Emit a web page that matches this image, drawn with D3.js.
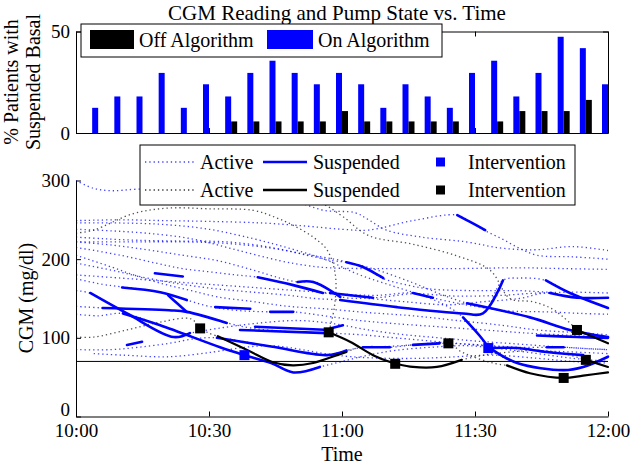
<!DOCTYPE html>
<html><head><meta charset="utf-8">
<script src="https://cdn.jsdelivr.net/npm/d3@7"></script>
<style>
body{margin:0;background:#fff}
svg{display:block}
text{font-family:"Liberation Serif","Times New Roman",serif;fill:#000}
</style>
</head><body>
<svg id="chart" width="632" height="466"></svg>
<script>
// ---------- DATA ----------
const barMinutes = [5,10,15,20,25,30,35,40,45,50,55,60,65,70,75,80,85,90,95,100,105,110,115,120];
const barOnAlgorithm  = [12.4,18,18,29.6,12.4,24,18,29.6,35.6,29.6,24,29.6,24,12.4,24,18,12.4,29.6,35.6,18,29.6,47.4,41.8,24];
const barOffAlgorithm = [0,0,0,0,0,0,5.7,5.7,5.7,5.7,5.7,10.8,5.7,5.7,5.7,5.7,5.7,0,5.7,10.8,10.8,10.8,16.3,0];
const xTickMinutes = [0,30,60,90,120];
const xTickLabels = ["10:00","10:30","11:00","11:30","12:00"];
const barYTicks = [0,50];
const cgmYTicks = [0,100,200,300];
const hypoThreshold = 70;

// CGM traces: [minutes after 10:00, mg/dl]
const activeOn = [
 [[0,300],[4,290],[8,287],[14,289],[24,288],[36,284],[48,276],[56,262],[63,259],[66,250],[70,237],[78,228],[88,222],[96,214],[104,212],[112,216],[120,211]],
 [[0,249],[10,250],[20,249],[30,248],[42,246],[52,242],[60,238],[66,237],[76,249],[86,256],[89,247],[92,237],[96,226],[100,214],[104,205],[112,203],[120,200]],
 [[0,238],[8,236],[16,233],[26,226],[36,212],[46,198],[52,192],[57,189],[70,188],[85,188],[100,189],[110,188],[120,187]],
 [[0,228],[6,226],[14,224],[24,223],[34,222],[44,215],[52,205],[58,198],[61,196],[65,190],[69,176],[74,168],[80,162],[90,160],[100,160],[107,158],[113,158],[120,157]],
 [[0,222],[8,218],[16,212],[24,205],[32,198],[40,186],[46,176],[50,171],[54,171],[60,152],[66,150],[74,146],[84,142],[92,146],[100,150],[106,157],[112,152],[120,150]],
 [[0,215],[10,205],[18,195],[24,188],[30,184],[36,180],[41,177],[49,167],[56,157],[62,155],[68,154],[76,157],[81,150],[90,140],[98,134],[106,133],[114,131],[120,130]],
 [[0,205],[8,190],[14,178],[20,168],[26,160],[32,152],[40,146],[48,140],[56,137],[66,132],[76,128],[86,122],[96,116],[104,110],[112,107],[120,104]],
 [[0,175],[6,168],[10,165],[19,158],[25,148],[30,140],[36,135],[44,133],[49,133],[56,128],[64,122],[72,118],[82,114],[92,110],[102,106],[112,103],[120,100]],
 [[0,160],[3,157],[11.5,131],[22,101],[25.7,106],[32,112],[40,118],[50,122],[58,118],[66,110],[74,104],[82,100],[90,96],[100,92],[110,88],[120,85]],
 [[0,140],[6,138],[21,135],[25,133],[34,119],[40,112],[48,108],[57,106],[64,104],[72,100],[80,96],[88,92],[96,88],[104,84],[112,82],[120,80]],
 [[0,130],[5,128],[10.6,131],[19,116],[32.5,88],[38,78],[44,68],[49,56],[55,63],[60,70],[66,78],[72,84],[80,88],[88,90],[96,86],[104,80],[112,74],[120,70]],
 [[0,85],[8,85],[14,88],[21,93],[27,99],[32,100],[44,89],[56.6,78],[61,84],[65,88],[71,88],[76,91],[82,93],[88,92],[94,90],[100,88],[106,88],[110,88],[116,86],[120,85]],
 [[4,80],[10.6,78],[21,76],[31,82],[38,88],[44,90],[50,86],[56,80],[62,76],[70,74],[78,74],[86,76],[94,78],[104,74],[112,70],[120,68]],
 [[0,246],[10,246],[20,244],[30,238],[40,226],[48,214],[56,200],[64,180],[72,165],[80,150],[85,136],[87.3,126],[91,103],[93,87],[99.5,68],[110,59],[114.4,63],[120,76]],
 [[0,195],[8,186],[16,176],[24,168],[32,162],[40,158],[48,154],[54,150],[59.6,148],[72.4,139],[87.3,131],[91.8,131],[96.3,173],[100,176],[106,173],[111.4,157],[120,138]],
 [[0,180],[10,176],[20,172],[30,168],[40,164],[50,160],[57.3,157],[67,151],[76,156],[86,153],[96,154],[106.9,157],[113,151],[120,151]],
 [[0,222],[12,222],[24,222],[34,220],[44,214],[52,206],[60,198],[68,186],[76,170],[82,156],[88.2,144],[102.4,126],[111.4,110],[120,101]]
];
const suspendedOn = [
 [[3.2,157],[11.5,131],[22,101],[25.7,106]],
 [[6,138],[21,135],[25,133],[34,119]],
 [[10.4,164],[19,158],[25,148]],
 [[20.8,154],[23,143],[25,133]],
 [[10.6,131],[19,116],[32.5,88],[38,78],[44,68],[49,56],[55,63]],
 [[11.5,91],[14.9,95]],
 [[31.4,139],[39.3,137]],
 [[43.8,133],[49,133]],
 [[37,110],[56.6,106]],
 [[40.4,114],[57.3,110]],
 [[31.8,100],[44,89],[56.6,78],[61,84]],
 [[17.8,182],[24.1,178]],
 [[41,177],[49,167],[55.7,157]],
 [[50,171],[53.5,171],[59.6,152]],
 [[86,256],[89,247],[92.3,237]],
 [[61,196],[64.7,190],[69.3,176]],
 [[57.3,157],[67,151]],
 [[76,157],[80.5,151]],
 [[106,173],[111.4,157],[120,138]],
 [[106.9,157],[113,151],[120,151]],
 [[59.6,148],[72.4,139],[87.3,131],[91.8,131],[96.3,173]],
 [[88.2,144],[102.4,126],[111.4,110],[120,101]],
 [[87.3,126],[91,103],[93.2,87]],
 [[93.4,87],[99.5,87],[106.2,82],[114.4,78]],
 [[93.4,87],[99.5,68],[110,59],[114.4,63],[120,76]],
 [[104,103],[113,101],[120,100]],
 [[106.2,88],[110,88]],
 [[64.7,88],[70.8,88]],
 [[76,91],[82,93]],
 [[57.3,112],[60.2,116]]
];
const activeOff = [
 [[0,233],[4,237],[13,258],[21,265],[30,264],[40,262],[45,253],[49,243],[53.5,228],[56.6,212],[58.5,180],[58.3,140],[57,107]],
 [[87,72],[92,78],[98,82],[104,84],[110,80],[115,72]],
 [[0,101],[4,101],[11.5,110],[19,120],[26,124],[28,112],[30,106],[32,102]],
 [[61,82],[64,88],[70,89],[76,91],[84,93],[87,82],[90,75],[94,68],[97.2,65]],
 [[15,282],[30,290],[45,285],[55,272],[60,255],[66,230],[76,219],[86,204],[93.4,186],[97.9,150],[103,146],[107,138],[110,126],[113,110]]
];
const suspendedOff = [
 [[32,102],[38.6,84.5],[44.4,69],[48.9,65],[53.5,68],[58.9,78],[61,82]],
 [[57,107],[61.8,95],[67,78],[71.5,68],[72.2,67],[76,63],[81.4,63],[87,72]],
 [[97.2,65],[102.4,55],[110,49],[114.4,52],[120,56]],
 [[113,110],[120,93]],
 [[115,72],[120,63]]
];
const interventionOn = [[38,78],[93,87]];
const interventionOff = [[28,112],[57,107],[72,67],[84,93],[110,49],[113,110],[115,72]];

// ---------- LAYOUT ----------
const svg = d3.select("#chart");
const FONT = '"Liberation Serif","Times New Roman",serif';
const BLUE = "#0000ff";
const x = d3.scaleLinear().domain([0,120]).range([76,608]);
const yBar = d3.scaleLinear().domain([0,50]).range([133,31.5]);
const yCgm = d3.scaleLinear().domain([0,300]).range([416.5,180.5]);

svg.append("defs").html(
 '<clipPath id="clipTop"><rect x="76" y="31.5" width="532" height="101.5"/></clipPath>'+
 '<clipPath id="clipBot"><rect x="76" y="170" width="540" height="246.5"/></clipPath>');

function styleAxis(g, size){
  g.attr("font-family", FONT).attr("font-size", size);
  g.selectAll("path.domain").attr("stroke","#000").attr("stroke-width",1);
  g.selectAll(".tick line").attr("stroke","#000");
  g.selectAll(".tick text").attr("fill","#000");
}

// title
svg.append("text").attr("x",337).attr("y",20).attr("text-anchor","middle")
  .attr("font-size",21).text("CGM Reading and Pump State vs. Time");

// ---------- TOP BAR CHART ----------
const topG = svg.append("g");
const barsG = topG.append("g").attr("clip-path","url(#clipTop)");
const bw = 6;
barsG.selectAll("rect.on").data(barMinutes).join("rect")
  .attr("x", d => x(d) - bw).attr("width", bw)
  .attr("y", (d,i) => yBar(barOnAlgorithm[i]))
  .attr("height", (d,i) => yBar(0) - yBar(barOnAlgorithm[i]))
  .attr("fill", BLUE);
barsG.selectAll("rect.off").data(barMinutes).join("rect")
  .attr("x", d => x(d)).attr("width", bw)
  .attr("y", (d,i) => yBar(barOffAlgorithm[i]))
  .attr("height", (d,i) => yBar(0) - yBar(barOffAlgorithm[i]))
  .attr("fill", "#000");

topG.append("g").attr("transform","translate(76,0)")
  .call(d3.axisLeft(yBar).tickValues(barYTicks).tickSize(-5).tickSizeOuter(0).tickPadding(6))
  .call(g=>styleAxis(g,19));
topG.append("g").attr("transform","translate(608,0)")
  .call(d3.axisRight(yBar).tickValues(barYTicks).tickSize(-5).tickSizeOuter(0).tickFormat(""))
  .call(g=>styleAxis(g,19));
topG.append("g").attr("transform","translate(0,133)")
  .call(d3.axisBottom(x).tickValues(xTickMinutes).tickSize(-5).tickSizeOuter(0).tickFormat(""))
  .call(g=>styleAxis(g,19));
topG.append("g").attr("transform","translate(0,31.5)")
  .call(d3.axisTop(x).tickValues(xTickMinutes).tickSize(-5).tickSizeOuter(0).tickFormat(""))
  .call(g=>styleAxis(g,19));

topG.append("text").attr("transform","translate(18,82) rotate(-90)").attr("text-anchor","middle")
  .attr("font-size",20).text("% Patients with");
topG.append("text").attr("transform","translate(40,82) rotate(-90)").attr("text-anchor","middle")
  .attr("font-size",20).text("Suspended Basal");

// top legend
const lg1 = svg.append("g");
lg1.append("rect").attr("x",81).attr("y",24).attr("width",361).attr("height",33)
  .attr("fill","#fff").attr("stroke","#000").attr("stroke-width",1);
lg1.append("rect").attr("x",90).attr("y",30).attr("width",44).attr("height",19).attr("fill","#000");
lg1.append("text").attr("x",139).attr("y",47).attr("font-size",20).text("Off Algorithm");
lg1.append("rect").attr("x",267).attr("y",30).attr("width",46).attr("height",19).attr("fill",BLUE);
lg1.append("text").attr("x",318).attr("y",47).attr("font-size",20).text("On Algorithm");

// ---------- BOTTOM CGM CHART ----------
const botG = svg.append("g");
const plot = botG.append("g").attr("clip-path","url(#clipBot)");
const line = d3.line().x(d => x(d[0])).y(d => yCgm(d[1])).curve(d3.curveCatmullRom.alpha(0.5));

plot.selectAll("path.aon").data(activeOn).join("path")
  .attr("d", line).attr("fill","none").attr("stroke",BLUE).attr("stroke-opacity",0.75)
  .attr("stroke-width",1.3).attr("stroke-dasharray","1.3,3");
plot.selectAll("path.aoff").data(activeOff).join("path")
  .attr("d", line).attr("fill","none").attr("stroke","#222").attr("stroke-opacity",0.8)
  .attr("stroke-width",1.3).attr("stroke-dasharray","1.3,3");
plot.selectAll("path.son").data(suspendedOn).join("path")
  .attr("d", line).attr("fill","none").attr("stroke",BLUE)
  .attr("stroke-width",2.6).attr("stroke-linecap","round");
plot.selectAll("path.soff").data(suspendedOff).join("path")
  .attr("d", line).attr("fill","none").attr("stroke","#000")
  .attr("stroke-width",2.2).attr("stroke-linecap","round");

plot.append("line").attr("x1",x(0)).attr("x2",x(120))
  .attr("y1",yCgm(hypoThreshold)).attr("y2",yCgm(hypoThreshold))
  .attr("stroke","#000").attr("stroke-width",1);

const sq = 10;
plot.selectAll("rect.ion").data(interventionOn).join("rect")
  .attr("x", d => x(d[0]) - sq/2).attr("y", d => yCgm(d[1]) - sq/2)
  .attr("width", sq).attr("height", sq).attr("fill", BLUE);
plot.selectAll("rect.ioff").data(interventionOff).join("rect")
  .attr("x", d => x(d[0]) - sq/2).attr("y", d => yCgm(d[1]) - sq/2)
  .attr("width", sq).attr("height", sq).attr("fill", "#000");

botG.append("g").attr("transform","translate(76,0)")
  .call(d3.axisLeft(yCgm).tickValues(cgmYTicks).tickSize(-5).tickSizeOuter(0).tickPadding(6))
  .call(g=>styleAxis(g,19))
  .call(g=>g.selectAll(".tick text").filter(d=>d===0).attr("dy","-0.06em"));
botG.append("g").attr("transform","translate(0,416.5)")
  .call(d3.axisBottom(x).tickValues(xTickMinutes).tickFormat((d,i)=>xTickLabels[i])
        .tickSize(-5).tickSizeOuter(0).tickPadding(7))
  .call(g=>styleAxis(g,19));

botG.append("text").attr("transform","translate(33,298) rotate(-90)").attr("text-anchor","middle")
  .attr("font-size",20).text("CGM (mg/dl)");
botG.append("text").attr("x",342).attr("y",461).attr("text-anchor","middle")
  .attr("font-size",20).text("Time");

// bottom legend
const lg2 = svg.append("g");
lg2.append("rect").attr("x",140).attr("y",145).attr("width",435).attr("height",60)
  .attr("fill","#fff").attr("stroke","#000").attr("stroke-width",1);
const rows = [{y:162, c:BLUE, op:0.75}, {y:190, c:"#000", op:0.8}];
rows.forEach(r => {
  lg2.append("line").attr("x1",145).attr("x2",195).attr("y1",r.y).attr("y2",r.y)
    .attr("stroke",r.c).attr("stroke-opacity",r.op).attr("stroke-width",1.3).attr("stroke-dasharray","1.3,3");
  lg2.append("text").attr("x",200).attr("y",r.y+6.5).attr("font-size",20).text("Active");
  lg2.append("line").attr("x1",263).attr("x2",307).attr("y1",r.y).attr("y2",r.y)
    .attr("stroke",r.c).attr("stroke-width",2.6);
  lg2.append("text").attr("x",313).attr("y",r.y+6.5).attr("font-size",20).text("Suspended");
  lg2.append("rect").attr("x",436).attr("y",r.y-4.5).attr("width",9).attr("height",9).attr("fill",r.c);
  lg2.append("text").attr("x",468).attr("y",r.y+6.5).attr("font-size",20).text("Intervention");
});
</script>
</body></html>
